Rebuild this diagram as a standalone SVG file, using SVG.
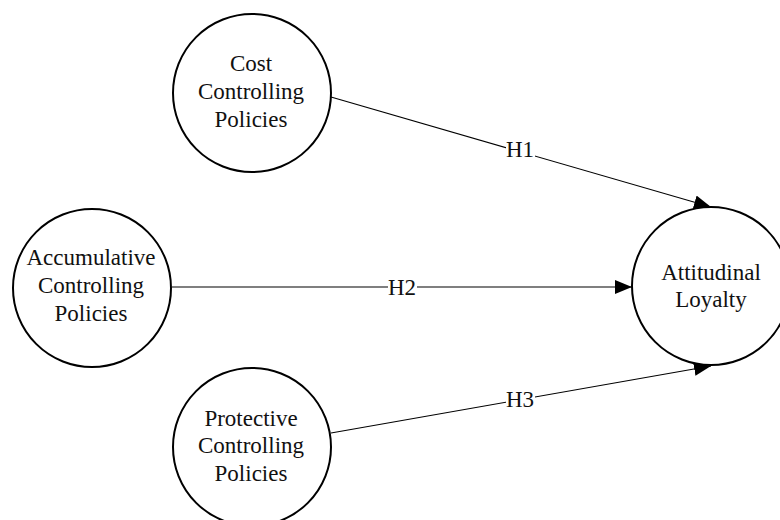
<svg xmlns="http://www.w3.org/2000/svg" width="780" height="520" viewBox="0 0 780 520">
<style>
.node circle{fill:#fff;stroke:#000;stroke-width:2}
text{font-family:"Liberation Serif","Times New Roman",serif;font-size:23px;fill:#111;text-anchor:middle}
.edge line{stroke:#000;stroke-width:1.1}
.lbl{fill:#fff}
</style>
<defs>
<marker id="arr" markerUnits="userSpaceOnUse" markerWidth="18" markerHeight="14" refX="17" refY="7" orient="auto">
<path d="M0,0 L17,7 L0,14 Z" fill="#000"/>
</marker>
</defs>
<g id="connectors" class="edge">
<line x1="331" y1="97" x2="711" y2="207" marker-end="url(#arr)"/>
<line x1="172" y1="287" x2="632" y2="287" marker-end="url(#arr)"/>
<line x1="331" y1="433" x2="711" y2="366" marker-end="url(#arr)"/>
<rect class="lbl" x="506" y="140" width="29" height="22"/>
<text x="520" y="157">H1</text>
<rect class="lbl" x="388" y="276" width="29" height="22"/>
<text x="402" y="295">H2</text>
<rect class="lbl" x="506" y="390" width="29" height="22"/>
<text x="520" y="407">H3</text>
</g>
<g id="cost" class="node">
<circle cx="252" cy="93" r="79"/>
<text x="251" y="71">Cost</text>
<text x="251" y="99">Controlling</text>
<text x="251" y="127">Policies</text>
</g>
<g id="accumulative" class="node">
<circle cx="92" cy="288" r="79"/>
<text x="91" y="265">Accumulative</text>
<text x="91" y="293">Controlling</text>
<text x="91" y="321">Policies</text>
</g>
<g id="protective" class="node">
<circle cx="252" cy="447" r="79"/>
<text x="251" y="426">Protective</text>
<text x="251" y="453">Controlling</text>
<text x="251" y="481">Policies</text>
</g>
<g id="attitudinal" class="node">
<circle cx="711" cy="286" r="79"/>
<text x="711" y="280">Attitudinal</text>
<text x="711" y="307">Loyalty</text>
</g>
</svg>
